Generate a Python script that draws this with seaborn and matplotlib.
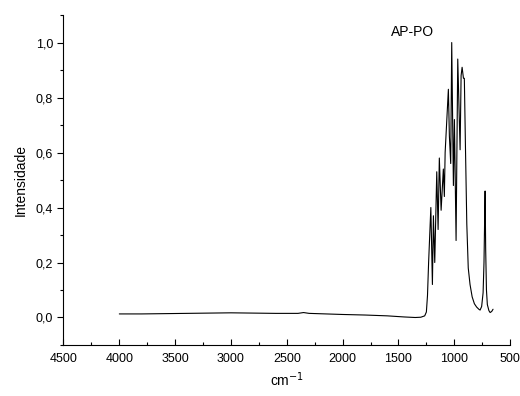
import matplotlib
matplotlib.use("Agg")
import matplotlib.pyplot as plt
from matplotlib.ticker import FuncFormatter, MultipleLocator
import seaborn as sns
import pandas as pd

# Wavenumber (cm-1) and intensity
wavenumber = [4000, 3800, 3600, 3400, 3200, 3000, 2800, 2600, 2400, 2350, 2300,
              2000, 1800, 1600, 1450, 1350, 1300, 1265, 1250, 1240, 1230, 1220,
              1210, 1196, 1187, 1175, 1157, 1145, 1134, 1118, 1098, 1089, 1082,
              1053, 1044, 1032, 1023, 1008, 999, 984, 969, 948, 939, 930, 918,
              910, 900, 888, 875, 859, 840, 820, 800, 780, 769, 755, 742, 734,
              728, 724, 719, 712, 704, 690, 679, 665, 653]
intensity = [0.013, 0.013, 0.014, 0.015, 0.016, 0.017, 0.016, 0.015, 0.015, 0.018,
             0.015, 0.011, 0.009, 0.006, 0.002, 0.000, 0.001, 0.006, 0.02, 0.08,
             0.20, 0.30, 0.40, 0.12, 0.37, 0.20, 0.53, 0.32, 0.58, 0.39, 0.54,
             0.44, 0.60, 0.83, 0.66, 0.56, 1.00, 0.48, 0.72, 0.28, 0.94, 0.61,
             0.88, 0.91, 0.87, 0.87, 0.62, 0.34, 0.18, 0.12, 0.075, 0.05, 0.038,
             0.03, 0.027, 0.04, 0.09, 0.2, 0.36, 0.46, 0.25, 0.10, 0.047, 0.025,
             0.018, 0.022, 0.03]

sample_label = "AP-PO"
x_label = "cm$^{-1}$"
y_label = "Intensidade"

df = pd.DataFrame({"wn": wavenumber, "I": intensity})

sns.set_style("ticks")
plt.rcParams['font.family'] = ['Liberation Sans', 'DejaVu Sans']
plt.rcParams.update({"text.color": "black", "axes.labelcolor": "black",
                     "xtick.color": "black", "ytick.color": "black",
                     "axes.edgecolor": "black"})

fig = plt.figure(figsize=(5.2, 3.96), dpi=100)
ax = fig.add_axes([0.1221, 0.1288, 0.981 - 0.1221, 0.962 - 0.1288])

sns.lineplot(data=df, x="wn", y="I", sort=False, color="black", linewidth=0.8, ax=ax)

ax.set_xlim(4500, 500)
ax.set_ylim(-0.1, 1.1)
ax.xaxis.set_major_locator(MultipleLocator(500))
ax.xaxis.set_minor_locator(MultipleLocator(250))
ax.yaxis.set_major_locator(MultipleLocator(0.2))
ax.yaxis.set_minor_locator(MultipleLocator(0.1))
ax.yaxis.set_major_formatter(FuncFormatter(lambda v, p: f"{v:.1f}".replace(".", ",").replace("-0,0", "0,0")))
ax.xaxis.set_major_formatter(FuncFormatter(lambda v, p: f"{v:.0f}"))

ax.tick_params(axis="x", which="major", direction="in", length=4, width=0.8, labelsize=9, pad=6, colors="black")
ax.tick_params(axis="x", which="minor", direction="in", length=2.5, width=0.8, colors="black")
ax.tick_params(axis="y", which="major", direction="out", length=4, width=0.8, labelsize=9, colors="black")
ax.tick_params(axis="y", which="minor", direction="out", length=2.5, width=0.8, colors="black")

for s in ["left", "bottom"]:
    ax.spines[s].set_linewidth(0.8)
    ax.spines[s].set_color("black")
sns.despine(ax=ax)

ax.set_xlabel(x_label, fontsize=10, labelpad=4, color="black")
ax.set_ylabel(y_label, fontsize=10, labelpad=6, color="black")

ax.text(1566, 1.04, sample_label, fontsize=10, ha="left", va="center", color="black")

fig.savefig("out.png", dpi=100)
